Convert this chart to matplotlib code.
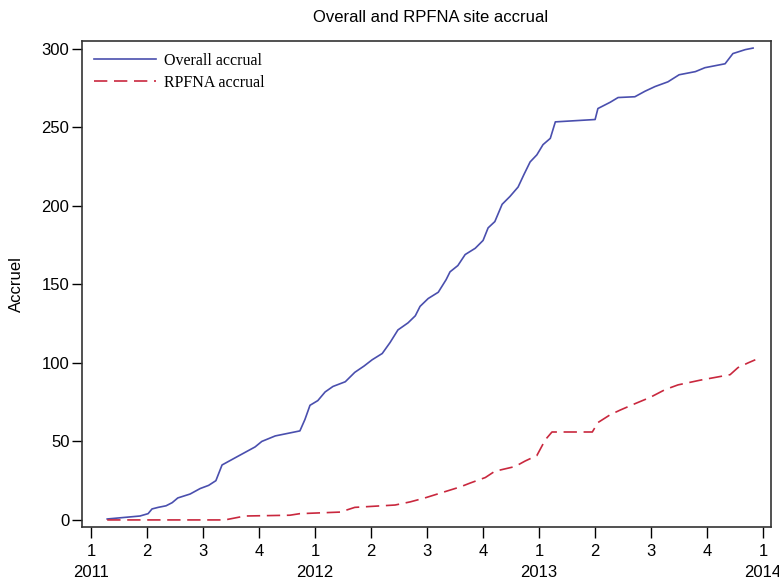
import matplotlib
matplotlib.use("Agg")
import matplotlib.pyplot as plt
from matplotlib import font_manager as fm

# quarters since 2011 Q1
overall_q = [0.29, 0.875, 1.02, 1.09, 1.2, 1.34, 1.45, 1.55, 1.77, 1.95, 2.1, 2.23, 2.34, 2.57, 2.75,
             2.93, 3.05, 3.29, 3.73, 3.82, 3.91, 4.05, 4.18, 4.32, 4.54, 4.71, 4.875, 5.02, 5.2,
             5.34, 5.48, 5.66, 5.79, 5.875, 6.02, 6.2, 6.34, 6.41, 6.55, 6.68, 6.86, 7.0, 7.09,
             7.21, 7.34, 7.48, 7.625, 7.73, 7.84, 7.96, 8.07, 8.2, 8.29, 9.0, 9.05, 9.27, 9.41,
             9.71, 9.89, 10.07, 10.3, 10.5, 10.79, 10.96, 11.32, 11.46, 11.68, 11.82]
overall_v = [0.6, 2.5, 4, 7, 8, 9, 11, 14, 16.5, 20, 22, 25, 35, 39.5, 43,
             46.5, 50, 53.5, 56.7, 64, 73, 76, 81.5, 85, 88, 94, 98, 102, 106,
             113, 121, 125.5, 130, 136, 141, 145, 153, 158, 162, 169, 173, 178, 186,
             190, 201, 206, 212, 220, 228, 232.5, 239, 243, 253.5, 255, 262, 266, 269,
             269.5, 273, 276, 279, 283.5, 285.5, 288, 290.5, 297, 299.5, 300.5]

rpfna_q = [0.29, 2.39, 2.75, 3.55, 3.73, 4.45, 4.71, 5.43, 5.7, 5.96, 6.23, 6.59, 6.77, 7.04,
           7.21, 7.57, 7.75, 7.96, 8.11, 8.23, 8.95, 9.05, 9.27, 9.45, 9.71, 9.98, 10.25,
           10.48, 10.875, 11.41, 11.55, 11.73, 11.86]
rpfna_v = [0, 0, 2.5, 3, 4, 5, 8, 9.5, 11.5, 14, 17, 21, 23.5, 27,
           31, 34, 37.5, 41, 51, 56, 56, 62, 67, 70, 74, 78, 83,
           86, 89, 92.5, 97, 100, 102]

quarter_labels = ["1\n2011", "2", "3", "4", "1\n2012", "2", "3", "4", "1\n2013", "2", "3", "4", "1\n2014"]
y_ticks = [0, 50, 100, 150, 200, 250, 300]

names = {f.name for f in fm.fontManager.ttflist}
narrow = "Liberation Sans Narrow" if "Liberation Sans Narrow" in names else "Liberation Sans"

fig = plt.figure(figsize=(7.79, 5.84), dpi=100)
ax = fig.add_axes([82/779, 1-527/584, (771-82)/779, (527-41)/584])

ax.plot(overall_q, overall_v, color="#4a4fae", lw=1.2, label="Overall accrual")
ax.plot(rpfna_q, rpfna_v, color="#c9283e", lw=1.2, dashes=(8, 4), label="RPFNA accrual")

ax.set_xlim(-0.16, 12.14)
ax.set_ylim(-4.5, 305)
ax.set_xticks(range(13))
ax.set_xticklabels(quarter_labels, fontfamily=narrow, fontsize=12, linespacing=1.55)
ax.set_yticks(y_ticks)
ax.set_yticklabels([str(v) for v in y_ticks], fontfamily="Liberation Sans", fontsize=12)
ax.tick_params(axis="x", length=8, width=1, pad=4)
ax.tick_params(axis="y", length=7, width=1, pad=2)
for s in ax.spines.values():
    s.set_linewidth(1.2)
    s.set_color("#333333")

ax.set_ylabel("Accruel", fontfamily="Liberation Sans", fontsize=12, labelpad=13)
fig.text(431/779, 1-18/584, "Overall and RPFNA site accrual", ha="center", va="center",
         fontfamily=narrow, fontsize=12)

ax.legend(loc="upper left", frameon=False, handlelength=3.9, handletextpad=0.5,
          labelspacing=0.35, borderaxespad=0.3, borderpad=0.45,
          prop={"family": "Liberation Serif", "size": 11.5})

fig.savefig("out.png", dpi=100)
